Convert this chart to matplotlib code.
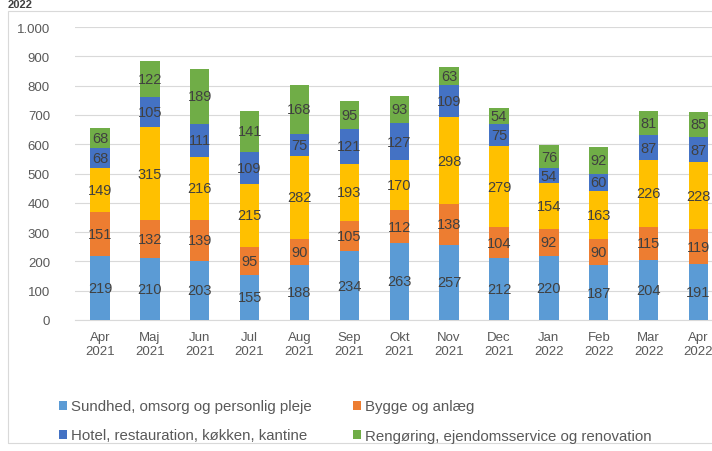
import matplotlib
matplotlib.use("Agg")
import matplotlib.pyplot as plt
from matplotlib.patches import Rectangle
import numpy as np

months = ["Apr\n2021", "Maj\n2021", "Jun\n2021", "Jul\n2021", "Aug\n2021", "Sep\n2021",
          "Okt\n2021", "Nov\n2021", "Dec\n2021", "Jan\n2022", "Feb\n2022", "Mar\n2022", "Apr\n2022"]
sundhed = [219, 210, 203, 155, 188, 234, 263, 257, 212, 220, 187, 204, 191]
bygge = [151, 132, 139, 95, 90, 105, 112, 138, 104, 92, 90, 115, 119]
yellow = [149, 315, 216, 215, 282, 193, 170, 298, 279, 154, 163, 226, 228]
hotel = [68, 105, 111, 109, 75, 121, 127, 109, 75, 54, 60, 87, 87]
rengoering = [68, 122, 189, 141, 168, 95, 93, 63, 54, 76, 92, 81, 85]

series = [
    ("Sundhed, omsorg og personlig pleje", sundhed, "#5B9BD5"),
    ("Bygge og anlæg", bygge, "#ED7D31"),
    (None, yellow, "#FFC000"),
    ("Hotel, restauration, køkken, kantine", hotel, "#4472C4"),
    ("Rengøring, ejendomsservice og renovation", rengoering, "#70AD47"),
]
yticks = [0, 100, 200, 300, 400, 500, 600, 700, 800, 900, 1000]
ytick_labels = ["0", "100", "200", "300", "400", "500", "600", "700", "800", "900", "1.000"]

plt.rcParams['font.family'] = ['Liberation Sans', 'DejaVu Sans']

fig = plt.figure(figsize=(7.12, 4.52), dpi=100)
# outer chart border
fig.patches.append(Rectangle((8/712, 8/452), 1.2, (452-20)/452, transform=fig.transFigure,
                             fill=False, edgecolor="#D9D9D9", linewidth=0.8))
fig.text(8/712, 1 - 0.5/452, "2022", ha="left", va="top", fontsize=8, fontweight="bold", color="#404040")

ax = fig.add_axes([75/712, 131/452, 1 - 75/712, 293/452])
x = np.arange(len(months))
bottom = np.zeros(len(months))
handles = {}
for name, vals, col in series:
    vals = np.array(vals, dtype=float)
    b = ax.bar(x, vals, 0.39, bottom=bottom, color=col, zorder=3, label=name)
    for xi, v, bt in zip(x, vals, bottom):
        ax.text(xi, bt + v / 2, f"{int(v)}", ha="center", va="center", fontsize=10.5,
                color="#404040", zorder=4)
    if name is not None:
        handles[name] = b
    bottom += vals

ax.set_xlim(-0.5, 12.27)
ax.set_ylim(0, 1000)
ax.set_yticks(yticks)
ax.set_yticklabels(ytick_labels)
ax.set_xticks(x)
ax.set_xticklabels(months)
ax.tick_params(axis="both", length=0, labelsize=9.5, labelcolor="#595959")
ax.tick_params(axis="x", pad=8)
ax.tick_params(axis="y", pad=18)
ax.grid(axis="y", color="#D9D9D9", linewidth=0.8, zorder=0)
for s in ["top", "right", "left"]:
    ax.spines[s].set_visible(False)
ax.spines["bottom"].set_color("#D9D9D9")

order = ["Sundhed, omsorg og personlig pleje", "Hotel, restauration, køkken, kantine",
         "Bygge og anlæg", "Rengøring, ejendomsservice og renovation"]
leg = fig.legend([handles[k] for k in order], order, loc="upper left",
                 bbox_to_anchor=(45/712, 1 - 387/452), ncol=2, frameon=False,
                 fontsize=10.8, handlelength=0.55, handleheight=0.55, handletextpad=0.3,
                 columnspacing=2.7, labelspacing=1.0)
for t in leg.get_texts():
    t.set_color("#595959")

fig.savefig("out.png", dpi=100)
